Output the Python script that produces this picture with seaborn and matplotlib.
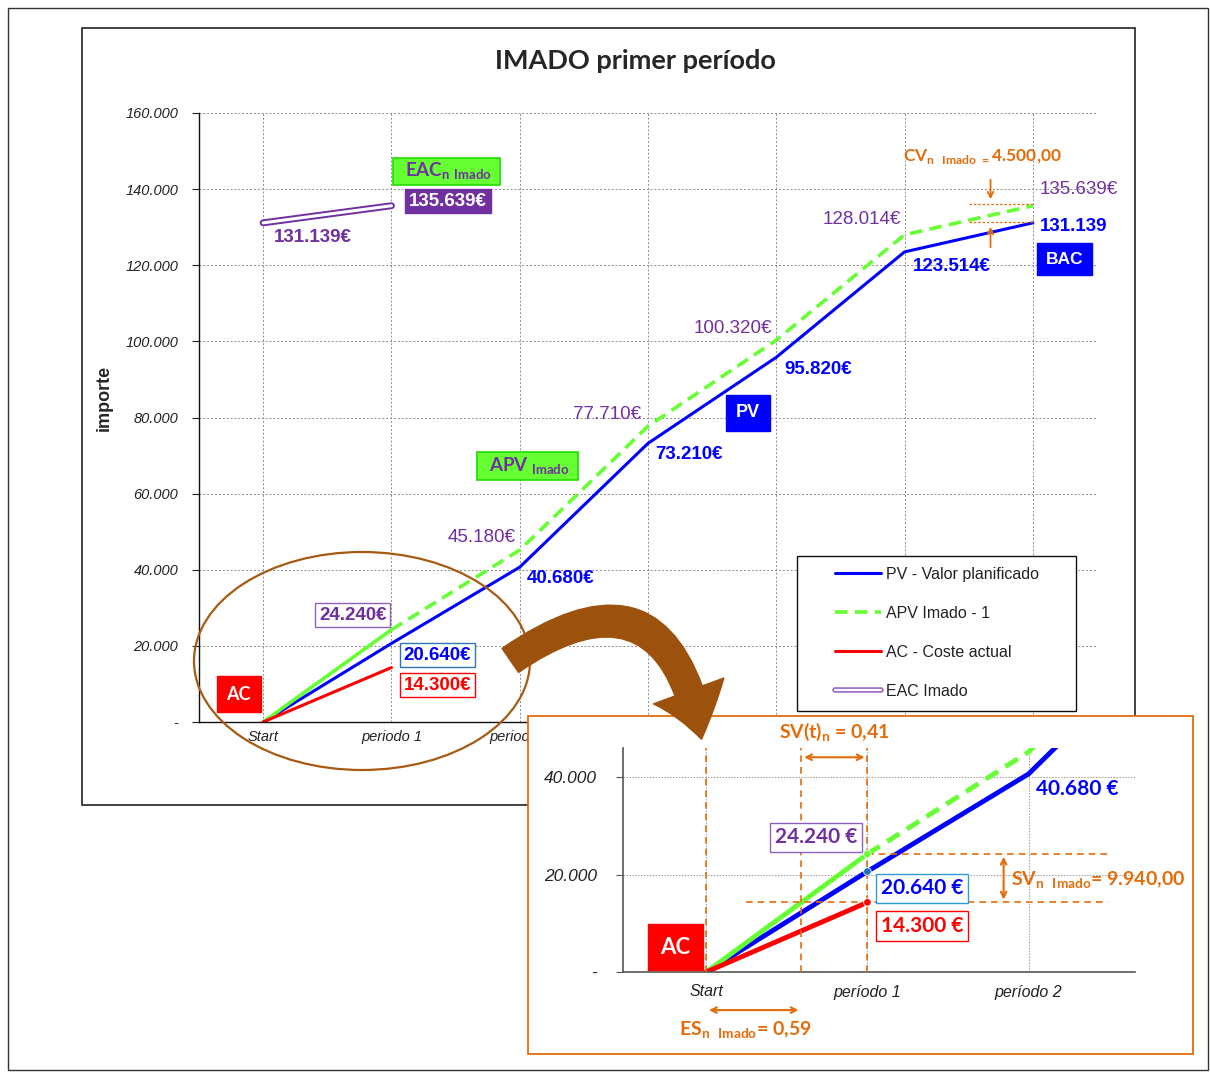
import matplotlib
matplotlib.use("Agg")
import matplotlib.pyplot as plt
import seaborn as sns
from matplotlib.patches import Rectangle, Ellipse, FancyArrowPatch
from matplotlib.lines import Line2D
from matplotlib.legend_handler import HandlerTuple

# datos
periodos = ["Start", "periodo 1", "periodo 2", "periodo 3", "periodo 4", "periodo 5", "periodo 6"]
periodos_zoom = ["Start", "período 1", "período 2"]
pv = [0, 20640, 40680, 73210, 95820, 123514, 131139]
apv = [0, 24240, 45180, 77710, 100320, 128014, 135639]
ac = [0, 14300]
eac = [131139, 135639]
leyenda = ["PV - Valor planificado", "APV Imado - 1", "AC - Coste actual", "EAC Imado"]

AZUL = "#0000FF"
VERDE = "#66FF33"
ROJO = "#FF0000"
MORADO = "#7030A0"
NARANJA = "#E46C0A"
MARRON = "#A65A12"

sns.set_style("white")
plt.rcParams["font.family"] = ["Liberation Sans", "DejaVu Sans"]

W, H = 1210, 1072
fig = plt.figure(figsize=(W / 100, H / 100), dpi=100)


def fx(x):
    return x / W


def fy(y):
    return 1 - y / H


def fmt_miles(v):
    return "-" if v == 0 else f"{v:,.0f}".replace(",", ".")


# marcos
fig.patches.append(Rectangle((fx(8), fy(1070)), 1200 / W, 1062 / H, transform=fig.transFigure,
                             fill=False, ec="#333333", lw=1, zorder=-5))
fig.patches.append(Rectangle((fx(82), fy(805)), 1053 / W, 777 / H, transform=fig.transFigure,
                             fill=False, ec="#222222", lw=1.2, zorder=-4))

lato = ["Lato", "DejaVu Sans"]
fig.text(fx(635), fy(61), "IMADO primer período", ha="center", va="center",
         fontsize=19.5, fontweight="bold", family=lato)
fig.text(fx(104), fy(398), "importe", ha="center", va="center", rotation=90,
         fontsize=13, fontweight="bold")

# grafico principal
ax = fig.add_axes([fx(199), fy(722), 898 / W, 609 / H])
x = list(range(len(periodos)))
sns.lineplot(x=x, y=pv, ax=ax, color=AZUL, lw=2.2)
sns.lineplot(x=x[:2], y=apv[:2], ax=ax, color=VERDE, lw=2.6)
sns.lineplot(x=x[1:], y=apv[1:], ax=ax, color=VERDE, lw=2.6, linestyle=(0, (3.5, 2)))
sns.lineplot(x=x[:2], y=ac, ax=ax, color=ROJO, lw=2.2)
sns.lineplot(x=x[:2], y=eac, ax=ax, color=MORADO, lw=5, solid_capstyle="round")
sns.lineplot(x=x[:2], y=eac, ax=ax, color="white", lw=2.2, solid_capstyle="round")

ax.set_xlim(-0.5, 6.5)
ax.set_ylim(0, 160000)
ax.set_xticks(x)
ax.set_xticklabels(periodos, fontstyle="italic", fontsize=10.5, color="#222222")
ax.set_xticks([i - 0.5 for i in range(8)], minor=True)
ax.tick_params(axis="x", which="major", length=0, pad=6)
ax.tick_params(axis="x", which="minor", length=5, direction="out", color="#222222")
yt = list(range(0, 160001, 20000))
ax.set_yticks(yt)
ax.set_yticklabels([fmt_miles(v) for v in yt], fontstyle="italic", fontsize=10.5, color="#222222")
ax.tick_params(axis="y", length=5, direction="out", pad=10, color="#222222", left=True)
ax.grid(True, ls=(0, (2, 2)), color="#8c8c8c", lw=0.7)
for s in ["top", "right"]:
    ax.spines[s].set_visible(False)
for s in ["left", "bottom"]:
    ax.spines[s].set_color("#111111")
    ax.spines[s].set_linewidth(1)
ax.set_xlabel("")
ax.set_ylabel("")


def etiqueta(a, xx, yy, s, color, size=13.5, weight="bold", box=None, family=None):
    kw = {}
    if family:
        kw["family"] = family
    a.text(xx, yy, s, color=color, fontsize=size, fontweight=weight, ha="center", va="center",
           bbox=box, zorder=6, **kw)


etiqueta(ax, 0.39, 127400, "131.139€", MORADO)
etiqueta(ax, 1.43, 144750, r"  EAC$_{\mathregular{n}}$$_{\mathregular{\ Imado}}$  ", MORADO, size=13.5,
         family=lato, box=dict(boxstyle="square,pad=0.15", fc=VERDE, ec="#22DD00", lw=1.2))
etiqueta(ax, 1.44, 136870, "135.639€", "white",
         box=dict(boxstyle="square,pad=0.2", fc=MORADO, ec=MORADO))
etiqueta(ax, 5.61, 148700, r"CV$_{\mathregular{n\ \ Imado\ =}}$4.500,00", NARANJA, size=12.5, family=lato)
etiqueta(ax, 6.36, 140000, "135.639€", MORADO, weight="normal")
etiqueta(ax, 6.32, 130300, "131.139", AZUL)
etiqueta(ax, 6.25, 121600, "BAC", "white", size=12.5,
         box=dict(boxstyle="square,pad=0.5", fc=AZUL, ec=AZUL))
etiqueta(ax, 4.67, 131900, "128.014€", MORADO, weight="normal")
etiqueta(ax, 5.37, 119800, "123.514€", AZUL)
etiqueta(ax, 3.66, 103500, "100.320€", MORADO, weight="normal")
etiqueta(ax, 4.33, 92700, "95.820€", AZUL)
etiqueta(ax, 2.68, 80900, "77.710€", MORADO, weight="normal")
etiqueta(ax, 3.78, 81200, "PV", "white", size=13,
         box=dict(boxstyle="square,pad=0.55", fc=AZUL, ec=AZUL))
etiqueta(ax, 3.32, 70400, "73.210€", AZUL)
etiqueta(ax, 2.06, 67250, r"  APV$_{\mathregular{\ Imado}}$  ", MORADO, size=13.5, family=lato,
         box=dict(boxstyle="square,pad=0.18", fc=VERDE, ec="#22DD00", lw=1.2))
etiqueta(ax, 1.70, 48600, "45.180€", MORADO, weight="normal")
etiqueta(ax, 2.32, 37800, "40.680€", AZUL)
etiqueta(ax, 0.70, 28100, "24.240€", MORADO,
         box=dict(boxstyle="square,pad=0.2", fc="white", ec="#9060C0", lw=1))
etiqueta(ax, 1.36, 17600, "20.640€", AZUL,
         box=dict(boxstyle="square,pad=0.2", fc="white", ec="#2E75B6", lw=1))
etiqueta(ax, 1.36, 9700, "14.300€", ROJO,
         box=dict(boxstyle="square,pad=0.2", fc="white", ec=ROJO, lw=1))
etiqueta(ax, -0.19, 7350, "AC", "white", size=13, family=lato,
         box=dict(boxstyle="square,pad=0.55", fc=ROJO, ec=ROJO))

# CV flechas
ax.hlines([136200, 131400], 5.5, 6.0, colors=NARANJA, lw=0.9, linestyles=(0, (2, 1.5)), zorder=5)
ax.annotate("", xy=(5.67, 136600), xytext=(5.67, 143200),
            arrowprops=dict(arrowstyle="->", color=NARANJA, lw=1.3), zorder=5)
ax.annotate("", xy=(5.67, 130800), xytext=(5.67, 124000),
            arrowprops=dict(arrowstyle="->", color=NARANJA, lw=1.3), zorder=5)

# leyenda
fig.patches.append(Rectangle((fx(797), fy(711)), 279 / W, 155 / H, transform=fig.transFigure,
                             fc="white", ec="#111111", lw=1, zorder=1.1))
hdl = [Line2D([], [], color=AZUL, lw=2.2),
       Line2D([], [], color=VERDE, lw=2.6, ls=(0, (3.5, 2))),
       Line2D([], [], color=ROJO, lw=2.2),
       (Line2D([], [], color="#9966CC", lw=4), Line2D([], [], color="white", lw=1.6))]
leg = fig.legend(hdl, leyenda, loc="upper left", bbox_to_anchor=(fx(835), fy(567)),
                 bbox_transform=fig.transFigure, fontsize=11.5, frameon=False,
                 handlelength=2.9, labelspacing=1.5, borderpad=0, handletextpad=0.3,
                 borderaxespad=0, handler_map={tuple: HandlerTuple(ndivide=1, pad=0)})
leg.set_zorder(1.2)
for t in leg.get_texts():
    t.set_color("#222222")

# elipse
fig.patches.append(Ellipse((fx(362), fy(661)), 336 / W, 218 / H, transform=fig.transFigure,
                           fill=False, ec=MARRON, lw=1.6, zorder=1.5))

# recuadro del detalle
fig.patches.append(Rectangle((fx(528), fy(1054)), 665 / W, 338 / H, transform=fig.transFigure,
                             fc="white", ec=NARANJA, lw=1.3, zorder=2))

axz = fig.add_axes([fx(623), fy(972), 512 / W, 224 / H], zorder=3)
axz.patch.set_alpha(0)
xz = list(range(len(periodos_zoom)))
sns.lineplot(x=x[:4], y=pv[:4], ax=axz, color=AZUL, lw=3.5)
sns.lineplot(x=x[:2], y=apv[:2], ax=axz, color=VERDE, lw=3.5)
sns.lineplot(x=x[1:4], y=apv[1:4], ax=axz, color=VERDE, lw=3.5, linestyle=(0, (3, 1.8)))
sns.lineplot(x=x[:2], y=ac, ax=axz, color=ROJO, lw=3.5)
axz.scatter([1, 1, 1], [apv[1], pv[1], ac[1]], color=[VERDE, "#1F6FB5", ROJO], s=30, zorder=6,
            edgecolors="white", linewidths=0.6)
axz.set_xlim(-0.516, 2.66)
axz.set_ylim(0, 46000)
axz.set_xticks(xz)
axz.set_xticklabels(periodos_zoom, fontstyle="italic", fontsize=11.5, color="#222222")
axz.set_xticks([i - 0.5 for i in range(4)], minor=True)
axz.tick_params(axis="x", which="major", length=0, pad=9)
axz.tick_params(axis="x", which="minor", length=5, direction="out", color="#555555")
ytz = [0, 20000, 40000]
axz.set_yticks(ytz)
axz.set_yticklabels([fmt_miles(v) for v in ytz], fontstyle="italic", fontsize=12.5, color="#222222")
axz.tick_params(axis="y", length=5, direction="out", pad=14, color="#555555", left=True)
axz.grid(True, ls=(0, (1.5, 1.5)), color="#9a9a9a", lw=0.7)
for s in ["top", "right"]:
    axz.spines[s].set_visible(False)
for s in ["left", "bottom"]:
    axz.spines[s].set_color("#555555")
    axz.spines[s].set_linewidth(1.2)
axz.set_xlabel("")
axz.set_ylabel("")

axz.vlines([0, 0.59, 1], 0, 46000, colors=NARANJA, lw=1.2, linestyles=(0, (4, 3)), zorder=5)
axz.hlines(apv[1], 1, 2.49, colors=NARANJA, lw=1.2, linestyles=(0, (4, 3)), zorder=5)
axz.hlines(ac[1], 0.25, 2.49, colors=NARANJA, lw=1.2, linestyles=(0, (4, 3)), zorder=5)
axz.annotate("", xy=(0.59, 44100), xytext=(1, 44100),
             arrowprops=dict(arrowstyle="<->", color=NARANJA, lw=1.5), zorder=6)
axz.annotate("", xy=(1.845, apv[1]), xytext=(1.845, ac[1]),
             arrowprops=dict(arrowstyle="<->", color=NARANJA, lw=1.5), zorder=6)
axz.annotate("", xy=(0, -0.17), xytext=(0.59, -0.17), xycoords=("data", "axes fraction"),
             textcoords=("data", "axes fraction"),
             arrowprops=dict(arrowstyle="<->", color=NARANJA, lw=1.5), annotation_clip=False)

etiqueta(axz, 2.30, 37540, "40.680 €", AZUL, size=15, family=lato)
etiqueta(axz, 0.68, 27700, "24.240 €", MORADO, size=15, family=lato,
         box=dict(boxstyle="square,pad=0.22", fc="white", ec="#9060C0", lw=1))
etiqueta(axz, 1.34, 17230, "20.640 €", AZUL, size=15, family=lato,
         box=dict(boxstyle="square,pad=0.22", fc="white", ec="#2E9AD6", lw=1))
etiqueta(axz, 1.34, 9440, "14.300 €", ROJO, size=15, family=lato,
         box=dict(boxstyle="square,pad=0.22", fc="white", ec=ROJO, lw=1))
etiqueta(axz, -0.19, 5130, "AC", "white", size=16, family=lato,
         box=dict(boxstyle="square,pad=0.55", fc=ROJO, ec=ROJO))
fig.text(fx(834), fy(732), r"SV(t)$_{\mathregular{n}}$ = 0,41", ha="center", va="center",
         color=NARANJA, fontsize=14, fontweight="bold", family=lato, zorder=6)
fig.text(fx(1098), fy(880), r"SV$_{\mathregular{n\ \ Imado}}$= 9.940,00", ha="center", va="center",
         color=NARANJA, fontsize=14, fontweight="bold", family=lato, zorder=6)
fig.text(fx(745), fy(1030), r"ES$_{\mathregular{n\ \ Imado}}$= 0,59", ha="center", va="center",
         color=NARANJA, fontsize=14, fontweight="bold", family=lato, zorder=6)

# flecha curva
flecha = FancyArrowPatch((fx(508), fy(662)), (fx(702), fy(742)), transform=fig.transFigure,
                         connectionstyle="arc3,rad=-0.78",
                         arrowstyle="simple,tail_width=2.1,head_width=5.4,head_length=3.6",
                         mutation_scale=10, fc="#9C520C", ec="#9C520C", zorder=8)
fig.patches.append(flecha)

fig.savefig("out.png", dpi=100)
